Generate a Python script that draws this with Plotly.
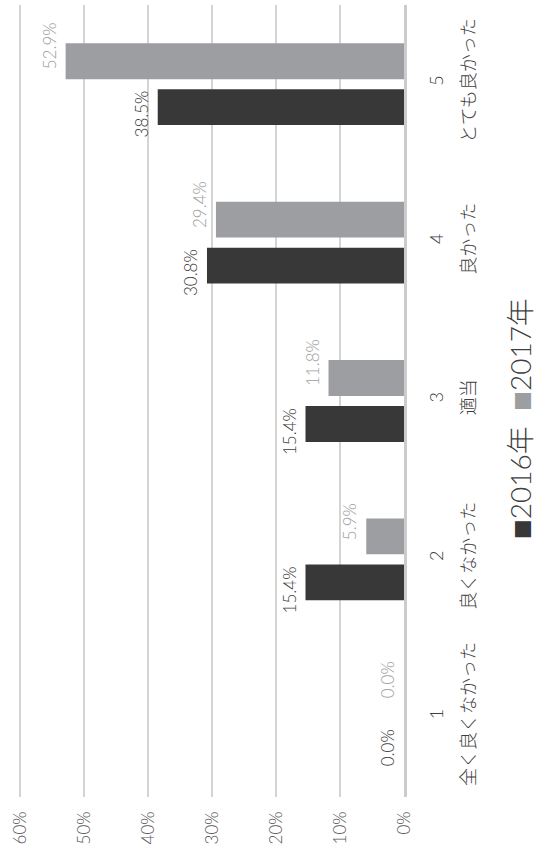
import plotly.graph_objects as go

categories = ["1<br>全く良くなかった", "2<br>良くなかった", "3<br>適当", "4<br>良かった", "5<br>とても良かった"]
series_names = ["2016年", "2017年"]
values_2016 = [0.0, 0.154, 0.154, 0.308, 0.385]
values_2017 = [0.0, 0.059, 0.118, 0.294, 0.529]
tick_vals = [0, 0.1, 0.2, 0.3, 0.4, 0.5, 0.6]
tick_text = ["0%", "10%", "20%", "30%", "40%", "50%", "60%"]

DARK = "#383838"
GRAY = "#9d9ea2"
FONT = "Lato, Noto Sans CJK JP"

fig = go.Figure()
series = [(series_names[0], values_2016, DARK, "#404040", -30),
          (series_names[1], values_2017, GRAY, GRAY, 38)]
for name, vals, col, tcol, yshift in series:
    fig.add_trace(go.Bar(
        y=categories, x=vals, orientation="h", name=name,
        marker=dict(color=col, line=dict(width=0)),
    ))
    for cat, v in zip(categories, vals):
        fig.add_annotation(
            x=v, y=cat, text=f"{v*100:.1f}%", showarrow=False, textangle=-90,
            xanchor="right", yanchor="middle", xshift=-4, yshift=yshift,
            font=dict(family=FONT, size=17, color=tcol, weight=300),
        )

tick_labels = [f'<span style="font-size:18px">{c.replace("<br>", "</span><br><span style=\"font-size:18px\">")}</span>'
               for c in categories]

fig.update_layout(
    width=538, height=854,
    margin=dict(l=17, r=134, t=5, b=57, autoexpand=False),
    paper_bgcolor="white", plot_bgcolor="white",
    barmode="group", bargap=0.42, bargroupgap=0.22,
    showlegend=False,
    font=dict(family=FONT, color="#595959", weight=300),
    xaxis=dict(range=[0.605, 0], tickvals=tick_vals, ticktext=tick_text, automargin=False,
               tickangle=-90, showgrid=True, gridcolor="#d4d4d4", gridwidth=1.5,
               zeroline=False, showline=False, ticks="", ticklabelstandoff=10,
               tickfont=dict(family=FONT, size=17, color="#595959", weight=300)),
    yaxis=dict(side="right", tickangle=-90, showgrid=False, zeroline=False, automargin=False,
               showline=True, linecolor="#cccccc", linewidth=2.5, ticks="",
               tickmode="array", tickvals=categories, ticktext=tick_labels,
               ticklabelstandoff=6,
               tickfont=dict(family=FONT, size=25, color="#404040", weight=300)),
)

fig.add_annotation(
    xref="paper", yref="paper", x=1.351, y=0.478, showarrow=False, textangle=-90,
    text=(f'<span style="color:{DARK};font-size:20px">■</span>{series_names[0]}  '
          f'<span style="color:{GRAY};font-size:20px">■</span>{series_names[1]}'),
    font=dict(family=FONT, size=28, color="#404040", weight=300),
)

fig.write_html("out.html", config={"displayModeBar": False},
               post_script="document.body.style.margin='0';")
